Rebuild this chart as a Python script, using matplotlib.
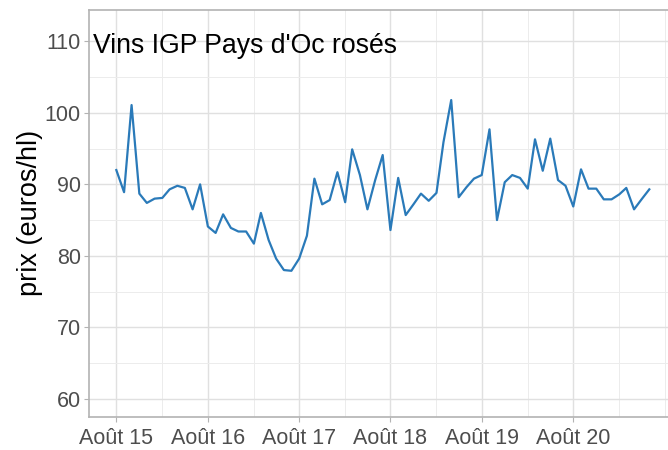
import numpy as np
import pandas as pd
import matplotlib
matplotlib.use('Agg')
import matplotlib.pyplot as plt

plt.rcParams['font.family'] = ['Liberation Sans', 'DejaVu Sans']

# prix mensuels, août 2015 -> juin 2021
prix = [92.0, 88.9, 101.1, 88.7, 87.4, 88.0, 88.1, 89.3, 89.8, 89.5, 86.5, 90.0,
        84.1, 83.2, 85.8, 83.9, 83.4, 83.4, 81.7, 86.0, 82.2, 79.6, 78.0, 77.9,
        79.6, 82.8, 90.8, 87.2, 87.8, 91.7, 87.5, 94.9, 91.3, 86.5, 90.6, 94.1,
        83.6, 90.9, 85.7, 87.2, 88.7, 87.7, 88.8, 95.9, 101.8, 88.2, 89.6, 90.8,
        91.3, 97.7, 85.0, 90.3, 91.3, 90.9, 89.4, 96.3, 91.9, 96.4, 90.6, 89.8,
        86.9, 92.1, 89.4, 89.4, 87.9, 87.9, 88.6, 89.5, 86.5, 87.9, 89.3]
mois = pd.date_range('2015-08-01', periods=len(prix), freq='MS')

tick_dates = pd.to_datetime(['2015-08-01', '2016-08-01', '2017-08-01',
                             '2018-08-01', '2019-08-01', '2020-08-01'])
tick_labels = ['Août 15', 'Août 16', 'Août 17', 'Août 18', 'Août 19', 'Août 20']
minor_dates = pd.to_datetime(['2016-02-01', '2017-02-01', '2018-02-01', '2019-02-01',
                              '2020-02-01', '2021-02-01', '2021-08-01'])
y_ticks = [60, 70, 80, 90, 100, 110]
titre = "Vins IGP Pays d'Oc rosés"

fig = plt.figure(figsize=(6.68, 4.5), dpi=100)
ax = fig.add_axes([0.1337, 0.0744, 0.878, 0.9033])

grid_col = '#e0e0e0'
for d in tick_dates:
    ax.axvline(d, color=grid_col, lw=1.0, zorder=0)
for d in minor_dates:
    ax.axvline(d, color='#ececec', lw=0.7, zorder=0)
for v in y_ticks:
    ax.axhline(v, color=grid_col, lw=1.0, zorder=0)
for v in np.arange(55, 115, 10):
    ax.axhline(v, color='#ececec', lw=0.7, zorder=0)

ax.plot(mois, prix, color='#2a7ab9', lw=1.6, zorder=3)

ax.set_xlim(pd.Timestamp('2015-04-15'), pd.Timestamp('2021-09-15'))
ax.set_ylim(57.5, 114.4)
ax.set_xticks(tick_dates)
ax.set_xticklabels(tick_labels)
ax.set_yticks(y_ticks)

for s in ax.spines.values():
    s.set_color('#b3b3b3')
    s.set_linewidth(1.2)
ax.tick_params(axis='both', direction='out', length=3.5, width=0.8, color='#b3b3b3',
               labelsize=15.5, labelcolor='#4d4d4d', pad=2.5)
ax.tick_params(axis='x', pad=4.5)

ax.set_ylabel('prix (euros/hl)', fontsize=19.5, color='black', va='center')
ax.yaxis.set_label_coords(-0.101, 0.5)
ax.text(pd.Timestamp('2015-04-30'), 108.4, titre, fontsize=19.2, color='black',
        ha='left', va='baseline')

fig.savefig('out.png', dpi=100)
